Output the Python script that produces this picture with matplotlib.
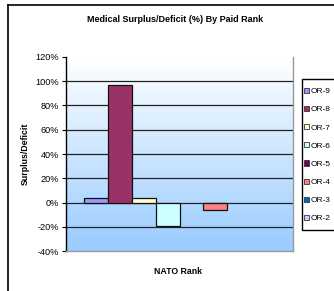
import numpy as np
import matplotlib
matplotlib.use("Agg")
import matplotlib.pyplot as plt
from matplotlib.lines import Line2D
from matplotlib.patches import Rectangle
from matplotlib.colors import LinearSegmentedColormap
from matplotlib.ticker import FuncFormatter

ranks = ["OR-9", "OR-8", "OR-7", "OR-6", "OR-5", "OR-4", "OR-3", "OR-2"]
values = [4, 97, 4, -19.5, 0, -6, 0, 0]
colors = ["#9999FF", "#993366", "#FFFFCC", "#CCFFFF", "#660066", "#FF8080", "#0066CC", "#CCCCFF"]
yticks = [-40, -20, 0, 20, 40, 60, 80, 100, 120]

plt.rcParams['font.family'] = ['Liberation Sans', 'DejaVu Sans']

W, H = 334, 291
fig = plt.figure(figsize=(W / 100, H / 100), dpi=100)
fig.patch.set_facecolor("white")

# outer chart border (left and top visible)
fig.add_artist(Line2D([8 / W, 8 / W], [0, 1 - 5 / H], transform=fig.transFigure, color="black", lw=1.2))
fig.add_artist(Line2D([8 / W, 1], [1 - 5 / H, 1 - 5 / H], transform=fig.transFigure, color="black", lw=1.2))

l, r, t, b = 66, 293, 57, 251
ax = fig.add_axes([l / W, 1 - b / H, (r - l) / W, (b - t) / H])

# gradient background (white at top -> light blue at bottom)
cmap = LinearSegmentedColormap.from_list("bg", ["#FFFFFF", "#99CCFF"])
grad = np.linspace(0, 1, 256).reshape(-1, 1)
ax.imshow(grad, cmap=cmap, aspect="auto", extent=(-0.5, 0.5, -40, 120), origin="upper", zorder=0)
ax.set_xlim(-0.5, 0.5)
ax.set_ylim(-40, 120)

for y in yticks[1:-1]:
    ax.axhline(y, color="#222222", lw=0.9, zorder=1)

n = len(ranks)
w = 1.0 / (n + 1.5)
handles = []
for i, (rk, v, c) in enumerate(zip(ranks, values, colors)):
    x = -0.5 + 0.75 * w + (i + 0.5) * w
    ax.bar(x, v, width=w, color=c, edgecolor="#111111", lw=0.9 if v != 0 else 0, zorder=2)
    handles.append(Rectangle((0, 0), 1, 1, facecolor=c, edgecolor="#333333", lw=0.6))

ax.set_yticks(yticks)
ax.yaxis.set_major_formatter(FuncFormatter(lambda v, p: f"{int(v)}%"))
ax.tick_params(axis="y", direction="out", length=3, width=0.8, labelsize=6.6, pad=2)
ax.set_xticks([])
ax.spines["top"].set_visible(False)
ax.spines["left"].set_color("black")
ax.spines["left"].set_linewidth(1)
ax.spines["right"].set_color("#999999")
ax.spines["right"].set_linewidth(1)
ax.spines["bottom"].set_color("#999999")
ax.spines["bottom"].set_linewidth(1)

fig.text(175 / W, 1 - 20 / H, "Medical Surplus/Deficit (%) By Paid Rank", ha="center", va="center",
         fontsize=6.5, fontweight="bold")
fig.text(178 / W, 1 - 271 / H, "NATO Rank", ha="center", va="center", fontsize=6.3, fontweight="bold")
fig.text(25 / W, 1 - 154 / H, "Surplus/Deficit", ha="center", va="center", rotation=90,
         fontsize=6.3, fontweight="bold")

# legend frame (extends past the right edge, as in the reference)
fig.add_artist(Rectangle((302 / W, 1 - 230 / H), 60 / W, 151 / H, transform=fig.transFigure,
                         facecolor="white", edgecolor="black", lw=1, zorder=4))
leg = fig.legend(handles, ranks, loc="upper left", bbox_to_anchor=(302 / W, 1 - 86 / H),
                 bbox_transform=fig.transFigure, fontsize=6.0, frameon=False,
                 handlelength=0.6, handleheight=0.6, handletextpad=0.25,
                 labelspacing=1.27, borderpad=0.2, borderaxespad=0)
leg.set_zorder(5)

fig.savefig("out.png", dpi=100)
